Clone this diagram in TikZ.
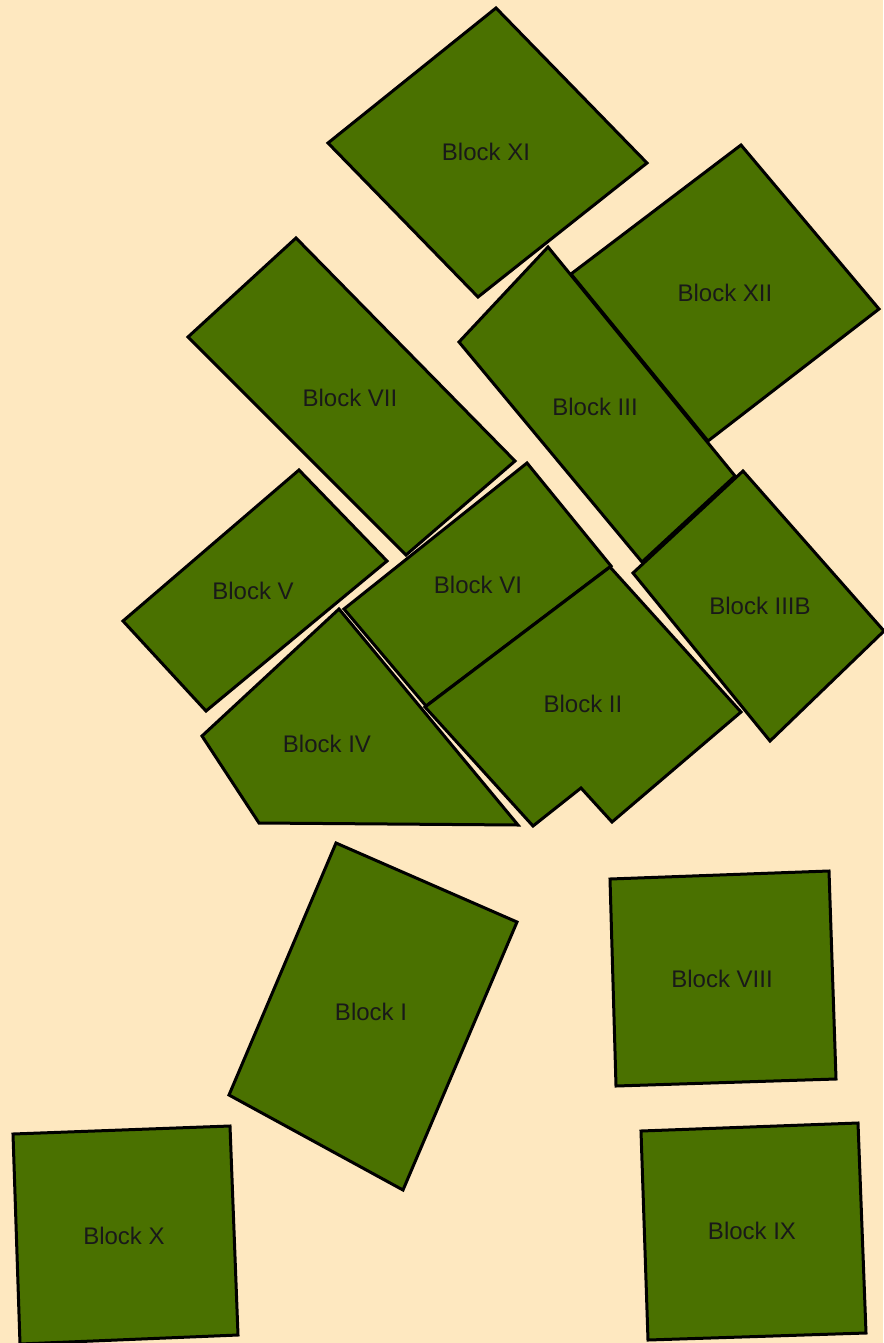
\documentclass[tikz,border=0pt]{standalone}
\usepackage{fontspec}
\setmainfont{Liberation Sans}
\definecolor{bg}{HTML}{FEE8C0}
\definecolor{blockgreen}{HTML}{4A7100}
\begin{document}
\begin{tikzpicture}[x=1pt,y=-1pt,
  blockshape/.style={fill=blockgreen,draw=black,line width=3pt,line join=miter},
  blocklabel/.style={font=\fontsize{24}{28}\selectfont,text=black!90,inner sep=0pt}]
\fill[bg] (0,0) rectangle (883,1343);
\useasboundingbox (0,0) rectangle (883,1343);
% Block XI
\draw[blockshape] (496,8) -- (647,163) -- (478,297) -- (328,143) -- cycle;
% Block III
\draw[blockshape] (548,247) -- (735,476) -- (642,562) -- (459,342) -- cycle;
% Block XII
\draw[blockshape] (741,145) -- (879,309) -- (708,441) -- (571,274) -- cycle;
% Block VII
\draw[blockshape] (296,238) -- (515,461) -- (406,555) -- (188,337) -- cycle;
% Block V
\draw[blockshape] (299,470) -- (387,561) -- (206,711) -- (123,621) -- cycle;
% Block VI
\draw[blockshape] (527,463) -- (611,566) -- (426,706) -- (344,609) -- cycle;
% Block IIIB
\draw[blockshape] (743,471) -- (884,631) -- (770,741) -- (633,573) -- cycle;
% Block IV
\draw[blockshape] (339,609) -- (518,825) -- (259,823) -- (202,736) -- cycle;
% Block II
\draw[blockshape] (610,567) -- (741,712) -- (612,822) -- (581,788) -- (533,826) -- (425,707) -- cycle;
% Block I
\draw[blockshape] (336,843) -- (517,922) -- (403,1190) -- (229,1095) -- cycle;
% Block VIII
\draw[blockshape] (610,879) -- (829,871) -- (836,1079) -- (616,1086) -- cycle;
% Block IX
\draw[blockshape] (641,1131) -- (858,1123) -- (866,1333) -- (648,1340) -- cycle;
% Block X
\draw[blockshape] (13,1134) -- (230,1126) -- (238,1335) -- (20,1344) -- cycle;
% labels
\node[blocklabel] (lXI) at (486,152) {Block XI};
\node[blocklabel] (lXII) at (725,293) {Block XII};
\node[blocklabel] (lVII) at (350,398) {Block VII};
\node[blocklabel] (lIII) at (595,407) {Block III};
\node[blocklabel] (lV) at (253,591) {Block V};
\node[blocklabel] (lVI) at (478,585) {Block VI};
\node[blocklabel] (lIIIB) at (760,606) {Block IIIB};
\node[blocklabel] (lII) at (583,704) {Block II};
\node[blocklabel] (lIV) at (327,744) {Block IV};
\node[blocklabel] (lI) at (371,1012) {Block I};
\node[blocklabel] (lVIII) at (722,979) {Block VIII};
\node[blocklabel] (lIX) at (752,1231) {Block IX};
\node[blocklabel] (lX) at (124,1236) {Block X};
\end{tikzpicture}
\end{document}
